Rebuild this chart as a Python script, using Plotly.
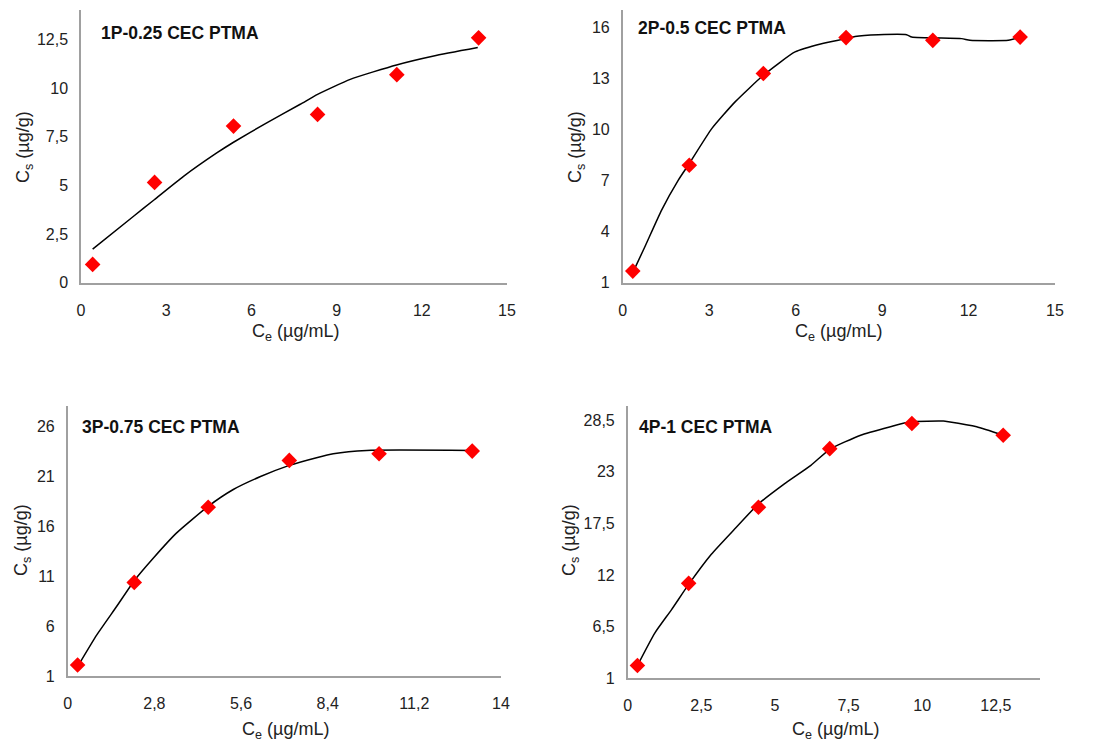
import plotly.graph_objects as go

# ---------------- data ----------------
titles = ["1P-0.25 CEC PTMA", "2P-0.5 CEC PTMA", "3P-0.75 CEC PTMA", "4P-1 CEC PTMA"]

p1_x = [0.41, 2.59, 5.37, 8.33, 11.12, 14.0]
p1_y = [0.94, 5.15, 8.04, 8.64, 10.68, 12.57]
p1_fit_x = [0.41, 1.84, 2.58, 3.61, 4.78, 5.37, 6.54, 7.72, 8.33, 9.48, 11.11, 12.42, 13.97]
p1_fit_y = [1.72, 3.40, 4.26, 5.46, 6.66, 7.21, 8.21, 9.16, 9.67, 10.44, 11.18, 11.64, 12.07]

p2_x = [0.35, 2.31, 4.88, 7.75, 10.76, 13.79]
p2_y = [1.68, 7.89, 13.27, 15.38, 15.22, 15.41]
p2_fit_x = [0.35, 0.77, 1.35, 1.93, 2.31, 3.09, 3.90, 4.88, 5.98, 6.90, 7.75, 8.06, 8.87, 9.85, 10.03, 11.76, 12.05, 13.38, 13.79]
p2_fit_y = [1.59, 3.11, 5.26, 7.02, 7.99, 10.04, 11.61, 13.17, 14.54, 15.02, 15.32, 15.45, 15.55, 15.55, 15.41, 15.32, 15.22, 15.22, 15.41]

p3_x = [0.32, 2.15, 4.54, 7.16, 10.06, 13.07]
p3_y = [2.10, 10.36, 17.88, 22.56, 23.23, 23.49]
p3_fit_x = [0.32, 0.94, 1.58, 2.15, 2.77, 3.52, 4.54, 5.35, 6.21, 7.16, 8.04, 8.58, 9.66, 13.07]
p3_fit_y = [1.94, 5.11, 7.95, 10.53, 12.80, 15.31, 17.97, 19.65, 20.92, 22.06, 22.83, 23.23, 23.56, 23.56]

p4_x = [0.33, 2.07, 4.44, 6.86, 9.65, 12.75]
p4_y = [2.36, 11.11, 19.21, 25.46, 28.14, 26.89]
p4_fit_x = [0.33, 0.92, 1.49, 2.07, 2.84, 3.63, 4.44, 5.32, 6.22, 6.86, 7.91, 8.92, 9.59, 10.72, 10.89, 11.85, 12.75]
p4_fit_y = [2.36, 5.82, 8.32, 11.00, 14.21, 16.89, 19.57, 21.71, 23.68, 25.39, 26.89, 27.79, 28.32, 28.39, 28.32, 27.79, 26.89]

x_ticks = [[0, 3, 6, 9, 12, 15], [0, 3, 6, 9, 12, 15], [0, 2.8, 5.6, 8.4, 11.2, 14], [0, 2.5, 5, 7.5, 10, 12.5]]
x_ticktext = [["0", "3", "6", "9", "12", "15"], ["0", "3", "6", "9", "12", "15"],
              ["0", "2,8", "5,6", "8,4", "11,2", "14"], ["0", "2,5", "5", "7,5", "10", "12,5"]]
y_ticks = [[0, 2.5, 5, 7.5, 10, 12.5], [1, 4, 7, 10, 13, 16], [1, 6, 11, 16, 21, 26], [1, 6.5, 12, 17.5, 23, 28.5]]
y_ticktext = [["0", "2,5", "5", "7,5", "10", "12,5"], ["1", "4", "7", "10", "13", "16"],
              ["1", "6", "11", "16", "21", "26"], ["1", "6,5", "12", "17,5", "23", "28,5"]]

x_ranges = [[0, 15], [0, 15], [0, 14], [0, 14]]
y_ranges = [[0, 14], [1, 17], [1, 28], [1, 30]]

# ---------------- layout geometry (pixels in the target picture) ----------------
PAGE_MARGIN = 8  # default browser body margin
W, H = 1095 - PAGE_MARGIN, 742 - PAGE_MARGIN
boxes = [  # left, right, top, bottom
    (81, 507, 10, 282.7),
    (622.7, 1055, 10, 282.7),
    (67.7, 501, 406, 676),
    (627.7, 1040, 406, 678.3),
]
title_pos = [(99, 33), (636, 28), (80, 427), (637, 427)]
ytitle_pos = [(25, 147), (577, 147), (22, 540), (570, 540)]
xtitle_pos = [(295, 333), (838, 333), (285, 730), (835, 730)]


def px(x):
    return (x - PAGE_MARGIN) / W


def py(y):
    return 1 - (y - PAGE_MARGIN) / H


series = [(p1_x, p1_y, p1_fit_x, p1_fit_y), (p2_x, p2_y, p2_fit_x, p2_fit_y),
          (p3_x, p3_y, p3_fit_x, p3_fit_y), (p4_x, p4_y, p4_fit_x, p4_fit_y)]

fig = go.Figure()
FONT = "Liberation Sans, Arial, sans-serif"
annotations = []
for i, (sx, sy, fx, fy) in enumerate(series):
    n = "" if i == 0 else str(i + 1)
    xa, ya = "x" + n, "y" + n
    fig.add_trace(go.Scatter(x=fx, y=fy, mode="lines", xaxis=xa, yaxis=ya,
                             line=dict(color="black", width=1.5, shape="spline", smoothing=0.5),
                             showlegend=False, hoverinfo="skip"))
    fig.add_trace(go.Scatter(x=sx, y=sy, mode="markers", xaxis=xa, yaxis=ya,
                             marker=dict(symbol="diamond", size=12, color="#ff0000"),
                             showlegend=False))
    l, r, t, b = boxes[i]
    axis_common = dict(showgrid=False, zeroline=False, showline=True, linecolor="#a0a0a0",
                       linewidth=1.5, ticks="", automargin=False,
                       tickfont=dict(family=FONT, size=16, color="#222"))
    fig.layout["xaxis" + n] = dict(domain=[px(l), px(r)], range=x_ranges[i], anchor=ya,
                                   tickvals=x_ticks[i], ticktext=x_ticktext[i],
                                   ticklabelstandoff=12, **axis_common)
    fig.layout["yaxis" + n] = dict(domain=[py(b), py(t)], range=y_ranges[i], anchor=xa,
                                   tickvals=y_ticks[i], ticktext=y_ticktext[i],
                                   ticklabelstandoff=8, **axis_common)
    tx, ty = title_pos[i]
    annotations.append(dict(text="<b>" + titles[i] + "</b>", x=px(tx), y=py(ty), xref="paper",
                            yref="paper", xanchor="left", yanchor="middle", showarrow=False,
                            font=dict(family=FONT, size=17.5, color="#111")))
    yx, yy = ytitle_pos[i]
    annotations.append(dict(text="C<sub>s</sub> (µg/g)", x=px(yx), y=py(yy), xref="paper",
                            yref="paper", xanchor="center", yanchor="middle", textangle=-90,
                            showarrow=False, font=dict(family=FONT, size=18, color="#222")))
    xx, xy = xtitle_pos[i]
    annotations.append(dict(text="C<sub>e</sub> (µg/mL)", x=px(xx), y=py(xy), xref="paper",
                            yref="paper", xanchor="center", yanchor="middle",
                            showarrow=False, font=dict(family=FONT, size=18, color="#222")))

fig.update_layout(width=W, height=H, margin=dict(l=0, r=0, t=0, b=0),
                  plot_bgcolor="white", paper_bgcolor="white", annotations=annotations)
fig.write_html("out.html")
